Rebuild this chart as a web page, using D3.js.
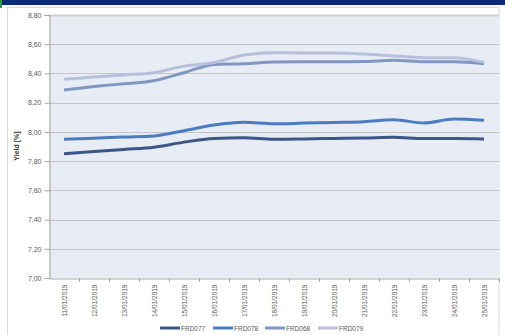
<!DOCTYPE html>
<html><head><meta charset="utf-8">
<script src="https://cdn.jsdelivr.net/npm/d3@7"></script>
<style>body{margin:0;background:#fff;}svg{display:block;font-family:"Liberation Sans",Arial,sans-serif;}</style>
</head><body><svg id="c" width="505" height="335"></svg>
<script>
const dates = ["11/01/2019","12/01/2019","13/01/2019","14/01/2019","15/01/2019","16/01/2019","17/01/2019","18/01/2019","19/01/2019","20/01/2019","21/01/2019","22/01/2019","23/01/2019","24/01/2019","25/01/2019"];
const FRD077 = [7.85,7.865,7.88,7.895,7.93,7.955,7.96,7.95,7.952,7.955,7.958,7.963,7.955,7.955,7.952];
const FRD078 = [7.95,7.957,7.965,7.972,8.008,8.047,8.066,8.055,8.06,8.065,8.07,8.083,8.061,8.088,8.079];
const FRD068 = [8.287,8.31,8.33,8.35,8.405,8.462,8.467,8.478,8.48,8.48,8.482,8.49,8.48,8.48,8.467];
const FRD079 = [8.36,8.375,8.39,8.405,8.45,8.474,8.526,8.542,8.54,8.54,8.533,8.52,8.508,8.508,8.476];
const yTicks = [7.0,7.2,7.4,7.6,7.8,8.0,8.2,8.4,8.6,8.8];
const seriesNames = ["FRD077","FRD078","FRD068","FRD079"];
const seriesData = [FRD077,FRD078,FRD068,FRD079];
const colors = ["#3b5688","#4c7cc0","#7f97c2","#b6c0dd"];

const svg = d3.select("#c");
const L=49,R=499,T=15,B=278;
// top band
svg.append("rect").attr("x",0).attr("y",0).attr("width",505).attr("height",5).attr("fill","#0a2a78");
svg.append("rect").attr("x",0).attr("y",0).attr("width",2).attr("height",8).attr("fill","#2e9a3a");
// outer border
svg.append("rect").attr("x",7.5).attr("y",7.5).attr("width",491.5).attr("height",330).attr("fill","none").attr("stroke","#d9d9d9");

const x = d3.scaleBand().domain(dates).range([L,R]);
const y = d3.scaleLinear().domain([7,8.8]).range([B,T]);

svg.append("rect").attr("x",L).attr("y",T).attr("width",R-L).attr("height",B-T).attr("fill","#e8ecf4");
// grid
svg.append("g").selectAll("line").data(yTicks.slice(1)).join("line")
  .attr("x1",L).attr("x2",R).attr("y1",d=>Math.round(y(d))+0.5).attr("y2",d=>Math.round(y(d))+0.5)
  .attr("stroke","#c6c6c6").attr("stroke-width",1);
svg.append("line").attr("x1",L).attr("x2",R).attr("y1",T+0.5).attr("y2",T+0.5).attr("stroke","#cfcfcf").attr("stroke-width",2);

// y axis
const ya = svg.append("g").attr("transform",`translate(${L+0.5},0)`)
  .call(d3.axisLeft(y).tickValues(yTicks).tickSize(5).tickPadding(3).tickFormat(d=>d3.format(".2f")(d).replace(".",",")));
ya.select(".domain").attr("stroke","#a6a6a6");
ya.selectAll(".tick line").attr("stroke","#a6a6a6");
ya.selectAll("text").attr("fill","#595959").attr("font-size",7);

// x axis
const xa = svg.append("g").attr("transform",`translate(0,${B+0.5})`)
  .call(d3.axisBottom(x).tickSize(0).tickPadding(0));
xa.select(".domain").attr("stroke","#a6a6a6");
xa.selectAll("text").attr("fill","#595959").attr("font-size",6.5)
  .attr("transform","rotate(-90)").attr("text-anchor","end").attr("dx","-6").attr("dy","2.5");
// category separator ticks
svg.append("g").selectAll("line").data(dates.slice(1).concat(["end"])).join("line")
  .attr("x1",(d,i)=>Math.round(L+x.step()*(i+1))+0.5).attr("x2",(d,i)=>Math.round(L+x.step()*(i+1))+0.5)
  .attr("y1",B).attr("y2",B+4).attr("stroke","#a6a6a6");

// y title
svg.append("text").attr("transform","translate(19,146) rotate(-90)").attr("text-anchor","middle")
  .attr("font-size",7).attr("font-weight","bold").attr("fill","#333").text("Yield [%]");

const line = d3.line().x((d,i)=>x(dates[i])+x.bandwidth()/2).y(d=>y(d)).curve(d3.curveMonotoneX);
seriesData.forEach((s,k)=>{
  svg.append("path").datum(s).attr("d",line).attr("fill","none").attr("stroke",colors[k])
    .attr("stroke-width",3).attr("stroke-linejoin","round").attr("stroke-linecap","butt");
});

// legend
const lx=[160,213,265,318];
const lg = svg.append("g");
seriesNames.forEach((n,k)=>{
  lg.append("line").attr("x1",lx[k]).attr("x2",lx[k]+20).attr("y1",328).attr("y2",328).attr("stroke",colors[k]).attr("stroke-width",3);
  lg.append("text").attr("x",lx[k]+21).attr("y",330.5).attr("font-size",6.5).attr("fill","#595959").text(n);
});
</script></body></html>
